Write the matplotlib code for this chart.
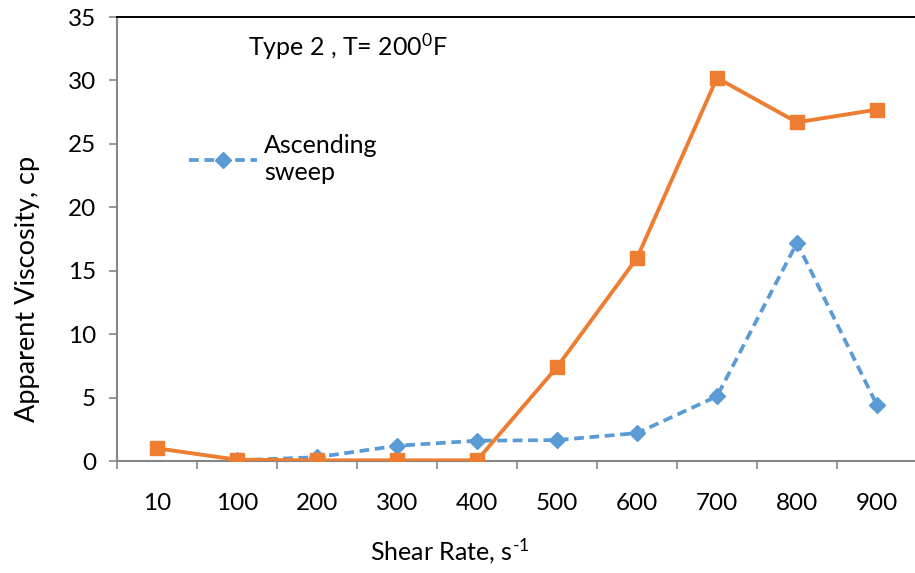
import numpy as np
import matplotlib
matplotlib.use("Agg")
import matplotlib.pyplot as plt
from matplotlib.lines import Line2D

plt.rcParams['font.family'] = ['Lato', 'DejaVu Sans']
plt.rcParams['mathtext.fontset'] = 'custom'
plt.rcParams['mathtext.rm'] = 'Lato'
plt.rcParams['mathtext.it'] = 'Lato'

shear_rates = ['10', '100', '200', '300', '400', '500', '600', '700', '800', '900']
# second series (no legend entry), first category included
series_b = [1.0, 0.1, 0.05, 0.05, 0.05, 7.4, 16.0, 30.2, 26.7, 27.7]
# ascending sweep starts at 100 s-1
ascending = [0.05, 0.3, 1.2, 1.6, 1.65, 2.2, 5.1, 17.2, 4.4]

orange = '#ED7D31'
blue = '#5B9BD5'
gray = '#868686'
dash = (0, (2.6, 1.5))

fig = plt.figure(figsize=(9.15, 5.73), dpi=100)
ax = fig.add_axes([117 / 915, 112 / 573, 800 / 915, 444 / 573])

xpos = np.arange(len(shear_rates))
asc_x = xpos[1:]

ax.plot(asc_x, ascending, color=blue, lw=2.7, linestyle=dash,
        dash_capstyle='butt', marker='D', markersize=8, zorder=3)
ax.plot(xpos, series_b, color=orange, lw=2.8, marker='s', markersize=10,
        zorder=4)

ax.set_xlim(-0.5, len(shear_rates) - 0.5)
ax.set_ylim(0, 35)
ax.set_yticks(range(0, 36, 5))
ax.set_xticks(xpos)
ax.set_xticklabels(shear_rates)
ax.set_xticks(np.arange(-0.5, len(shear_rates)), minor=True)
ax.tick_params(axis='x', which='minor', length=6, width=1.2, color=gray,
               direction='out')
ax.tick_params(axis='x', which='major', length=0, pad=23, labelsize=17.5)
ax.tick_params(axis='y', length=6, width=1.2, color=gray, pad=9, labelsize=17.5)

for side in ['left', 'bottom']:
    ax.spines[side].set_color(gray)
    ax.spines[side].set_linewidth(1.5)
ax.spines['right'].set_visible(False)
ax.spines['top'].set_color('black')
ax.spines['top'].set_linewidth(1.4)

# axis titles are offset from the plot centre
ax.set_ylabel('Apparent Viscosity, cp', fontsize=19.5)
ax.yaxis.set_label_coords(-77 / 800, (461 - 289) / 444)
ax.set_xlabel(r'Shear Rate, s$^{\text{-1}}$', fontsize=18)
ax.xaxis.set_label_coords((450 - 117) / 800, -76 / 444)

fig.text(248 / 915, 1 - 47 / 573, r'Type 2 , T= 200$\mathregular{^0}$F',
         fontsize=18, va='center', ha='left')

handle = Line2D([], [], color=blue, lw=2.7, linestyle=dash,
                marker='D', markersize=8)
ax.legend([handle], ['Ascending\nsweep'], loc='upper left',
          bbox_to_anchor=(62 / 800, 1 - 107 / 444), frameon=False,
          fontsize=18, handlelength=2.7, handletextpad=0.3,
          borderaxespad=0, labelspacing=0.35)

fig.savefig('out.png', dpi=100)
